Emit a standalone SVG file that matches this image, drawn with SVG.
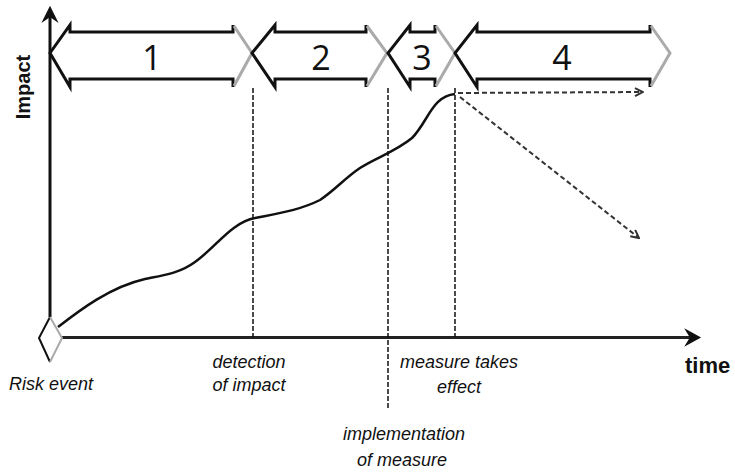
<svg xmlns="http://www.w3.org/2000/svg" width="735" height="472" viewBox="0 0 735 472">
<defs>
<style>
.blk{fill:none;stroke:#111;stroke-width:3;stroke-linejoin:miter}
.gry{fill:none;stroke:#aaa;stroke-width:3}
.num{font-family:"Open Sans","Liberation Sans",sans-serif;font-size:34px;fill:#111;text-anchor:middle}
.lbl{font-family:"Liberation Sans",Arial,sans-serif;font-size:18px;font-style:italic;fill:#111;text-anchor:middle}
.ax{font-family:"Liberation Sans",Arial,sans-serif;font-weight:bold;fill:#111}
.vd{stroke:#111;stroke-width:1.5;stroke-dasharray:5 2;fill:none}
.da{stroke:#333;stroke-width:2;stroke-dasharray:5 3;fill:none}
</style>
<marker id="open" viewBox="0 0 10 10" refX="9" refY="5" markerWidth="5" markerHeight="5" orient="auto" markerUnits="strokeWidth">
<path d="M1,1 L9,5 L1,9" fill="none" stroke="#333" stroke-width="2"/>
</marker>
</defs>
<rect width="735" height="472" fill="#fff"/>

<g id="axes">
<line x1="50" y1="317" x2="50" y2="12" stroke="#111" stroke-width="3"/>
<path d="M44,20 L50,8 L56,20 L50,16 Z" fill="#111" stroke="#111" stroke-width="2"/>
<line x1="62" y1="337.5" x2="695" y2="337.5" stroke="#222" stroke-width="3"/>
<path d="M687,331 L699,337.5 L687,344 L691,337.5 Z" fill="#111" stroke="#111" stroke-width="2"/>
<text class="ax" font-size="20" transform="translate(30,87) rotate(-90)" text-anchor="middle">Impact</text>
<text class="ax" font-size="22" x="685" y="373">time</text>
</g>

<g id="phase1">
<path class="blk" d="M233,25 L233,32 L70,32 L70,25 L50,53 L70,87 L70,79 L233,79 L233,87"/>
<path class="gry" d="M234,26 L252,53 L234,86"/>
<text class="num" x="152" y="70">1</text>
</g>
<g id="phase2">
<path class="blk" d="M366,25 L366,32 L275,32 L275,25 L252,53 L275,87 L275,79 L366,79 L366,87"/>
<path class="gry" d="M367,26 L387,53 L367,86"/>
<text class="num" x="321" y="70">2</text>
</g>
<g id="phase3">
<path class="blk" d="M435,25 L435,32 L410,32 L410,25 L388,53 L410,87 L410,79 L435,79 L435,87"/>
<path class="gry" d="M436,26 L455,53 L436,86"/>
<text class="num" x="422" y="70">3</text>
</g>
<g id="phase4">
<path class="blk" d="M650,25 L650,32 L477,32 L477,25 L455,53 L477,87 L477,79 L650,79 L650,87"/>
<path class="gry" d="M651,26 L670,53 L651,86"/>
<text class="num" x="562" y="70">4</text>
</g>

<g id="risk-event">
<path d="M50,317 L39,338 L50,362" fill="none" stroke="#111" stroke-width="2"/>
<path d="M50,317 L62,338 L50,362" fill="none" stroke="#aaa" stroke-width="2"/>
<text class="lbl" x="51" y="390">Risk event</text>
</g>

<g id="detection">
<text class="lbl" x="249" y="368">detection</text>
<text class="lbl" x="249" y="391">of impact</text>
</g>
<g id="implementation">
<text class="lbl" x="404" y="440">implementation</text>
<text class="lbl" x="402" y="466">of measure</text>
</g>
<g id="measure-effect">
<text class="lbl" x="459" y="368">measure takes</text>
<text class="lbl" x="459" y="393">effect</text>
</g>

<g id="connectors">
<line class="vd" x1="253" y1="88" x2="253" y2="337"/>
<line class="vd" x1="388" y1="88" x2="388" y2="408"/>
<line class="vd" x1="455" y1="88" x2="455" y2="337" stroke-width="2.5"/>
<path d="M58,327 C80,310 110,287 145,279 C165,275 180,273 195,262 C215,248 232,222 255,218 C280,213 300,210 320,200 C335,190 345,178 360,168 C375,158 395,152 412,138 C428,122 432,96 455,94" fill="none" stroke="#111" stroke-width="2.5"/>
<line class="da" x1="458" y1="93" x2="643" y2="92" marker-end="url(#open)"/>
<line class="da" x1="460" y1="97" x2="639" y2="238" marker-end="url(#open)"/>
</g>
</svg>
